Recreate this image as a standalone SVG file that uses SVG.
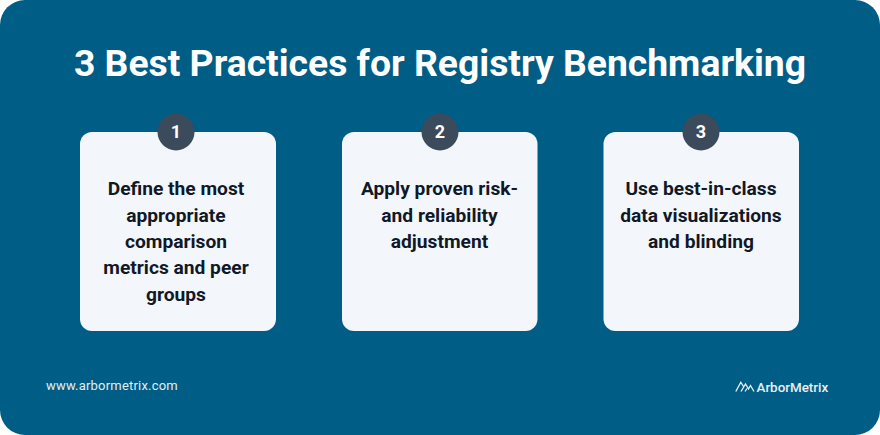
<svg xmlns="http://www.w3.org/2000/svg" width="880" height="435" viewBox="0 0 880 435">
<style>
text{font-family:Roboto,"Liberation Sans",sans-serif}
.card{fill:#f3f7fb}
.badge{fill:#3b4b5c}
.num{font-size:18px;font-weight:700;fill:#fff;text-anchor:middle}
.body{font-size:19.2px;font-weight:700;fill:#111827;text-anchor:middle}
</style>
<rect width="880" height="435" fill="#fff"/>
<rect x="0" y="0" width="880" height="435" rx="25" fill="#005d86"/>
<text x="440" y="76" text-anchor="middle" font-size="37.300" font-weight="700" fill="#fff">3 Best Practices for Registry Benchmarking</text>
<g id="card1">
<rect class="card" x="80" y="132" width="196" height="199" rx="12"/>
<circle class="badge" cx="176" cy="132" r="18.500"/>
<text class="num" x="176" y="138">1</text>
<text class="body"><tspan x="176" y="195">Define the most</tspan><tspan x="176" y="222">appropriate</tspan><tspan x="176" y="248">comparison</tspan><tspan x="176" y="274">metrics and peer</tspan><tspan x="176" y="301">groups</tspan></text>
</g>
<g id="card2">
<rect class="card" x="342" y="132" width="195.500" height="199" rx="12"/>
<circle class="badge" cx="440" cy="132" r="18.500"/>
<text class="num" x="440" y="138">2</text>
<text class="body"><tspan x="439.500" y="195">Apply proven risk-</tspan><tspan x="439.500" y="222">and reliability</tspan><tspan x="439.500" y="248">adjustment</tspan></text>
</g>
<g id="card3">
<rect class="card" x="603.500" y="132" width="195.500" height="199" rx="12"/>
<circle class="badge" cx="701" cy="132" r="18.500"/>
<text class="num" x="701" y="138">3</text>
<text class="body"><tspan x="701" y="195">Use best-in-class</tspan><tspan x="701" y="222">data visualizations</tspan><tspan x="701" y="248">and blinding</tspan></text>
</g>
<text x="46" y="390" font-size="13" letter-spacing="0.2" fill="#e3edf4">www.arbormetrix.com</text>
<g id="logo">
<path d="M735.800 391.500L740.800 382.200L743.500 386.500M741 391.500L745.500 384L748.500 389L750.500 385.500L754 391.500M745 391.500L747 388.500" fill="none" stroke="#e8f0f5" stroke-width="1.300"/>
<text x="756.500" y="392" font-size="13.400" font-weight="500" fill="#e8f0f5">ArborMetrix</text>
</g>
</svg>
